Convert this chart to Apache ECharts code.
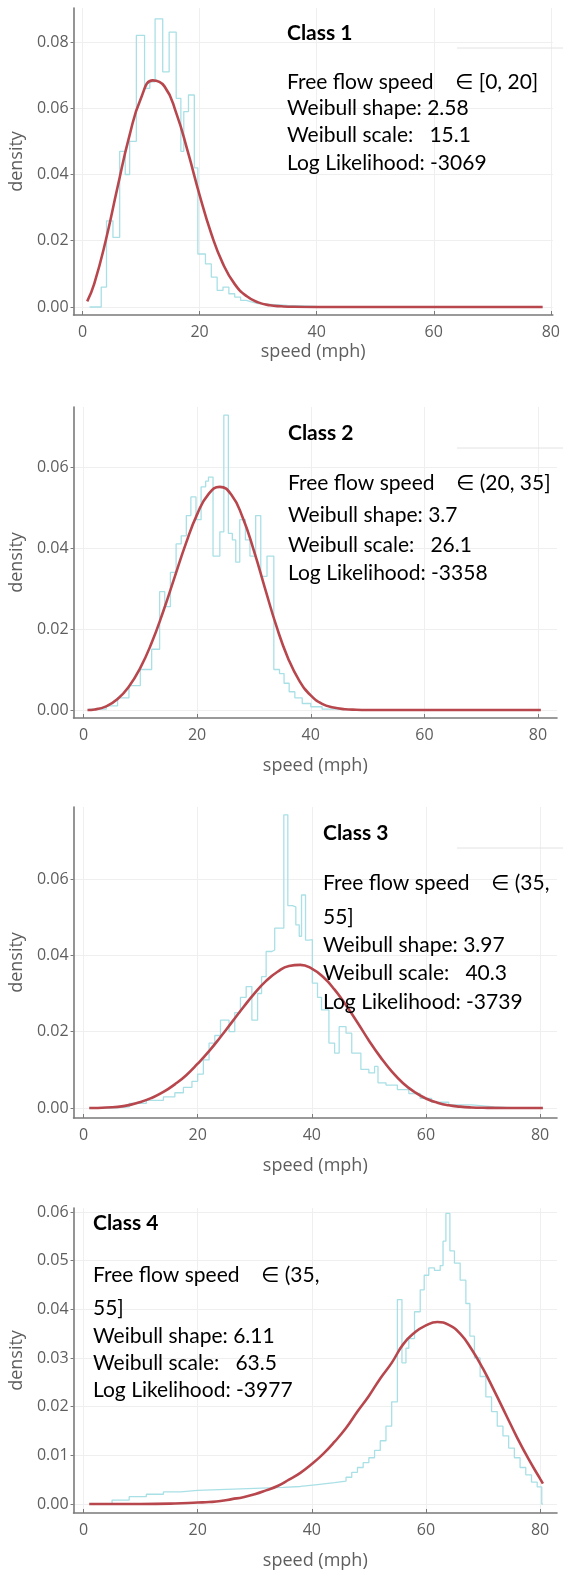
<!DOCTYPE html>
<html><head><meta charset="utf-8">
<script src="https://cdn.jsdelivr.net/npm/echarts@6/dist/echarts.min.js"></script>
<style>html,body{margin:0;padding:0;background:#fff}#c{width:563px;height:1574px}</style>
</head><body><div id="c"></div>
<script>
// ---------- tick labels ----------
const speedTicks = [0, 20, 40, 60, 80];
const densityTicks1 = [0, 0.02, 0.04, 0.06, 0.08];
const densityTicks2 = [0, 0.02, 0.04, 0.06];
const densityTicks3 = [0, 0.02, 0.04, 0.06];
const densityTicks4 = [0, 0.01, 0.02, 0.03, 0.04, 0.05, 0.06];

// ---------- Class 1 ----------
const hist1Edges   = [1.2, 3.2, 4.1, 5.2, 6.35, 7.3, 8.05, 9.2, 10.6, 11.5, 12.4, 13.7, 14.8, 16.0, 16.8, 17.3, 18.1, 19.1, 19.7, 21, 22, 23, 24, 25, 26, 27, 28, 29, 30, 32, 35, 40];
const hist1Density = [0.000, 0.006, 0.026, 0.021, 0.047, 0.040, 0.050, 0.082, 0.066, 0.068, 0.087, 0.071, 0.083, 0.063, 0.047, 0.059, 0.064, 0.042, 0.016, 0.013, 0.009, 0.005, 0.006, 0.004, 0.003, 0.002, 0.0015, 0.001, 0.0008, 0.0005, 0.0002, 0];
const fit1Speed   = [0.8, 2, 4, 6, 8, 10, 12, 14, 16, 18, 20, 22, 24, 26, 28, 30, 32, 34, 36, 40, 50, 60, 70, 78.6];
const fit1Density = [0.0017, 0.0070, 0.0203, 0.0363, 0.0516, 0.0631, 0.0684, 0.0666, 0.0586, 0.0468, 0.0338, 0.0221, 0.0130, 0.0069, 0.0033, 0.0014, 0.0005, 0.0002, 0.00005, 0, 0, 0, 0, 0];

// ---------- Class 2 ----------
const hist2Edges   = [1, 4, 6, 8, 10, 12, 13.4, 14.3, 15.3, 16.3, 17.2, 18.1, 18.9, 19.8, 20.7, 21.5, 22.0, 22.8, 24.0, 24.7, 25.5, 26.2, 26.8, 27.5, 28.5, 29.3, 30.3, 31.2, 32.3, 33.5, 34.5, 35.3, 36.2, 37.2, 38.5, 40, 42, 45];
const hist2Density = [0.0002, 0.001, 0.003, 0.006, 0.010, 0.015, 0.0292, 0.0255, 0.034, 0.041, 0.043, 0.048, 0.0526, 0.047, 0.0551, 0.0565, 0.0575, 0.038, 0.044, 0.0728, 0.0436, 0.042, 0.0365, 0.047, 0.042, 0.038, 0.048, 0.033, 0.038, 0.010, 0.009, 0.0066, 0.0045, 0.003, 0.0016, 0.0008, 0.0002, 0];
const fit2Speed   = [0.7, 2, 4, 6, 8, 10, 12, 14, 16, 18, 20, 22, 24, 26, 28, 30, 32, 34, 36, 38, 40, 42, 44, 46, 48, 50, 60, 70, 80.5];
const fit2Density = [0.00001, 0.00014, 0.0009, 0.0027, 0.0058, 0.0104, 0.0166, 0.0242, 0.0326, 0.0410, 0.0483, 0.0533, 0.0551, 0.0532, 0.0476, 0.0393, 0.0298, 0.0205, 0.0128, 0.0072, 0.0036, 0.0015, 0.0006, 0.0002, 0.00005, 0, 0, 0, 0];

// ---------- Class 3 ----------
const hist3Edges   = [1, 5, 8, 11, 14, 16, 17.5, 19, 20, 21, 22, 23, 24, 25.5, 26.5, 27.5, 28.5, 29.5, 30.5, 31.2, 32, 33, 33.5, 35.1, 35.8, 36.6, 37.2, 37.8, 38.2, 38.9, 39.5, 40.1, 41.0, 41.7, 43.0, 44.0, 44.8, 46.0, 47.0, 48.6, 50.0, 51.0, 51.6, 53, 55, 57, 59, 61, 64, 68, 72, 75, 80];
const hist3Density = [0, 0.0003, 0.0012, 0.0020, 0.0029, 0.0040, 0.0054, 0.0070, 0.0089, 0.0126, 0.0170, 0.0190, 0.0230, 0.0200, 0.0250, 0.0290, 0.0318, 0.0230, 0.0300, 0.0344, 0.0410, 0.0414, 0.0471, 0.0768, 0.0530, 0.0527, 0.0480, 0.0450, 0.0558, 0.0440, 0.0441, 0.0327, 0.0290, 0.0257, 0.0170, 0.0144, 0.0213, 0.0196, 0.0144, 0.0101, 0.0092, 0.0109, 0.0066, 0.0060, 0.0048, 0.0038, 0.0025, 0.0015, 0.0008, 0.0003, 0.0001, 0, 0];
const fit3Speed   = [1, 4, 7, 10, 12, 14, 16, 18, 20, 22, 24, 26, 28, 30, 32, 34, 36, 38, 40, 42, 44, 46, 48, 50, 52, 54, 56, 58, 60, 62, 64, 66, 68, 70, 74, 80.5];
const fit3Density = [0, 0.00015, 0.0005, 0.0016, 0.0027, 0.0042, 0.0062, 0.0086, 0.0116, 0.0149, 0.0186, 0.0225, 0.0264, 0.0301, 0.0333, 0.0357, 0.0372, 0.0375, 0.0365, 0.0343, 0.0310, 0.0269, 0.0224, 0.0177, 0.0134, 0.0096, 0.0065, 0.0042, 0.0025, 0.0014, 0.0007, 0.00035, 0.00015, 0.00006, 0, 0];

// ---------- Class 4 ----------
const hist4Edges   = [1, 5, 8, 11, 14, 17, 20, 25, 30, 35, 38, 41, 44, 46, 47, 48, 49, 50, 51, 52, 53, 54, 55, 55.8, 56.5, 57, 58, 59, 59.7, 60.5, 61.5, 62.5, 63, 63.5, 64.2, 65, 66, 67, 67.7, 68.5, 69.5, 70.5, 71.5, 72.5, 73.5, 74.5, 75.5, 76.5, 77.5, 78.5, 79.5, 80.3, 80.5];
const hist4Density = [0, 0.0008, 0.0015, 0.0020, 0.0025, 0.0028, 0.0030, 0.0032, 0.0034, 0.0036, 0.0040, 0.0044, 0.0047, 0.0055, 0.0065, 0.0075, 0.0085, 0.0095, 0.0110, 0.0130, 0.0160, 0.0210, 0.0420, 0.0290, 0.0320, 0.0340, 0.0395, 0.0440, 0.0470, 0.0485, 0.0480, 0.0490, 0.0540, 0.0597, 0.0520, 0.0495, 0.0460, 0.0412, 0.0345, 0.0300, 0.0262, 0.0220, 0.0190, 0.0160, 0.0140, 0.0115, 0.0095, 0.0075, 0.0060, 0.0045, 0.0035, 0, 0];
const fit4Speed   = [1, 10, 16, 20, 22, 24, 26, 28, 30, 32, 34, 36, 38, 40, 42, 44, 46, 48, 50, 52, 54, 56, 58, 60, 62, 64, 66, 68, 70, 72, 74, 76, 78, 80, 80.5];
const fit4Density = [0, 0, 0.0001, 0.0003, 0.0004, 0.0006, 0.0010, 0.0014, 0.0020, 0.0028, 0.0037, 0.0050, 0.0064, 0.0082, 0.0103, 0.0128, 0.0156, 0.0190, 0.0222, 0.0258, 0.0290, 0.0328, 0.0352, 0.0367, 0.0374, 0.0368, 0.0350, 0.0318, 0.0278, 0.0232, 0.0184, 0.0136, 0.0092, 0.0052, 0.0042];

// ---------- annotation texts ----------
const classTitles = ['Class 1', 'Class 2', 'Class 3', 'Class 4'];
const classNotes = [
  ['Free flow speed    \u2208 [0, 20]', 'Weibull shape: 2.58', 'Weibull scale:   15.1', 'Log Likelihood: -3069'],
  ['Free flow speed    \u2208 (20, 35]', 'Weibull shape: 3.7', 'Weibull scale:   26.1', 'Log Likelihood: -3358'],
  ['Free flow speed    \u2208 (35,', '55]', 'Weibull shape: 3.97', 'Weibull scale:   40.3', 'Log Likelihood: -3739'],
  ['Free flow speed    \u2208 (35,', '55]', 'Weibull shape: 6.11', 'Weibull scale:   63.5', 'Log Likelihood: -3977']
];

// ---------- layout (pixels) ----------
const panels = [
  {top: 8,    height: 307, left: 72, width: 481, xmin: -1.53, xmax: 80.34, ymin: -0.00242, ymax: 0.09026, yTicks: densityTicks1, xNameGap: 28,
   textX: 287, titleY: 33,   lineY: [82, 108, 135, 163]},
  {top: 407,  height: 311, left: 72, width: 485, xmin: -1.75, xmax: 83.34, ymin: -0.00198, ymax: 0.07481, yTicks: densityTicks2, xNameGap: 39,
   textX: 288, titleY: 433,  lineY: [483, 515, 545, 573]},
  {top: 807,  height: 311, left: 72, width: 485, xmin: -1.75, xmax: 82.97, ymin: -0.00262, ymax: 0.07886, yTicks: densityTicks3, xNameGap: 39,
   textX: 323, titleY: 833,  lineY: [883, 917, 945, 973, 1002]},
  {top: 1208, height: 305, left: 72, width: 485, xmin: -1.75, xmax: 82.97, ymin: -0.00185, ymax: 0.06082, yTicks: densityTicks4, xNameGap: 39,
   textX: 93,  titleY: 1223, lineY: [1275, 1308, 1336, 1363, 1390]}
];
const histData = [[hist1Edges, hist1Density], [hist2Edges, hist2Density], [hist3Edges, hist3Density], [hist4Edges, hist4Density]];
const fitData  = [[fit1Speed, fit1Density], [fit2Speed, fit2Density], [fit3Speed, fit3Density], [fit4Speed, fit4Density]];

const AX = '#7a7a7a', LBL = '#5e5e5e', FONT = '"Open Sans", "DejaVu Sans", sans-serif';
const zip = (a, b) => a.map((v, i) => [v, b[i]]);

const grid = [], xAxis = [], yAxis = [], series = [], graphic = [];
panels.forEach((p, i) => {
  grid.push({left: p.left, top: p.top, width: p.width, height: p.height, containLabel: false});
  xAxis.push({
    type: 'value', gridIndex: i, min: p.xmin, max: p.xmax,
    name: 'speed (mph)', nameLocation: 'middle', nameGap: p.xNameGap,
    nameTextStyle: {color: LBL, fontSize: 18, fontFamily: FONT},
    axisLine: {show: true, onZero: false, lineStyle: {color: AX, width: 1.6}},
    axisTick: {show: true, inside: true, length: 4, customValues: speedTicks, lineStyle: {color: AX}},
    axisLabel: {customValues: speedTicks, color: LBL, fontSize: 16, fontFamily: FONT, margin: 9},
    splitLine: {show: true, lineStyle: {color: '#efefef', width: 1}}
  });
  yAxis.push({
    type: 'value', gridIndex: i, min: p.ymin, max: p.ymax,
    name: 'density', nameLocation: 'middle', nameGap: 46, nameRotate: 90,
    nameTextStyle: {color: LBL, fontSize: 18, fontFamily: FONT},
    axisLine: {show: true, onZero: false, lineStyle: {color: AX, width: 1.6}},
    axisTick: {show: true, inside: false, length: 3, customValues: p.yTicks, lineStyle: {color: AX}},
    axisLabel: {customValues: p.yTicks, color: LBL, fontSize: 16, fontFamily: FONT, margin: 5,
                formatter: v => v.toFixed(2)},
    splitLine: {show: true, lineStyle: {color: '#efefef', width: 1}}
  });
  series.push({
    type: 'line', xAxisIndex: i, yAxisIndex: i, step: 'end', symbol: 'none', silent: true,
    data: zip(histData[i][0], histData[i][1]),
    lineStyle: {color: '#a9e0e6', width: 1.3}, z: 2
  });
  series.push({
    type: 'line', xAxisIndex: i, yAxisIndex: i, smooth: 0.5, symbol: 'none', silent: true,
    data: zip(fitData[i][0], fitData[i][1]),
    lineStyle: {color: '#b8474d', width: 2.6}, z: 3
  });
  graphic.push({type: 'text', x: p.textX, y: p.titleY, z: 10,
    style: {text: classTitles[i], font: 'bold 21px Lato, "Open Sans", sans-serif', fill: '#000', verticalAlign: 'middle'}});
  classNotes[i].forEach((t, j) => {
    graphic.push({type: 'text', x: p.textX, y: p.lineY[j], z: 10,
      style: {text: t, font: '21px Lato, "DejaVu Sans", sans-serif', fill: '#000', verticalAlign: 'middle'}});
  });
});
// faint remnants of legend boxes
[48, 448, 848].forEach(y => {
  graphic.push({type: 'line', z: 9, shape: {x1: 457, y1: y, x2: 563, y2: y}, style: {stroke: '#e2e2e2', lineWidth: 1}});
});

const chart = echarts.init(document.getElementById('c'), null, {renderer: 'canvas'});
chart.setOption({animation: false, backgroundColor: '#fff', grid, xAxis, yAxis, series, graphic});
</script></body></html>
